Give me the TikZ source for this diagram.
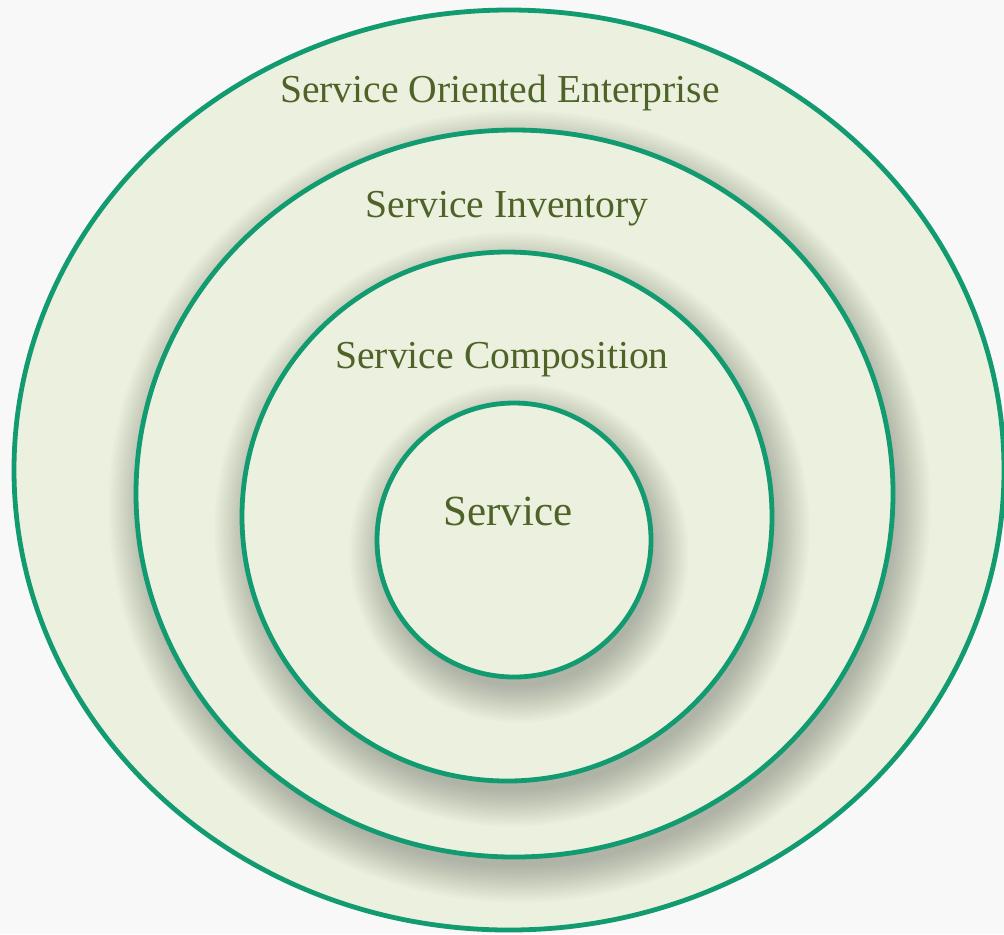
\documentclass[tikz,border=0pt]{standalone}
\usepackage{fontspec}
\setmainfont{Liberation Serif}

\definecolor{ringfill}{RGB}{235,241,222}
\definecolor{ringline}{RGB}{18,154,112}
\definecolor{labeltext}{RGB}{79,98,40}
\definecolor{paper}{RGB}{248,248,248}

\tikzset{
	ring/.style={fill=ringfill, draw=ringline, line width=2.4pt},
	glowstep/.style={fill=black, fill opacity=0.017},
	ringlabel/.style={text=labeltext, font=\fontsize{19.8}{22}\selectfont, anchor=base, inner sep=0pt},
}

% soft shadow under a ring: centre x, centre y, x radius, y radius
\newcommand{\ringglow}[4]{%
	\foreach \k in {1,...,16}{
		\fill[glowstep] (#1+5,#2+13) ellipse [x radius={#3+2.4*\k-6}, y radius={#4+2.4*\k-6}];
	}
}

\begin{document}
\begin{tikzpicture}[x=0.5pt,y=-0.5pt]
	\useasboundingbox (0,0) rectangle (1004,934);
	\clip (0,0) rectangle (1004,934);
	\fill[paper] (0,0) rectangle (1004,934);
	
	% rings, outermost first
	\filldraw[ring] (509,470) ellipse [x radius=495, y radius=460];
	\ringglow{514.5}{493.5}{378.5}{363.5}
	\filldraw[ring] (514.5,493.5) ellipse [x radius=378.5, y radius=363.5];
	\ringglow{507}{516.5}{265}{264.5}
	\filldraw[ring] (507,516.5) ellipse [x radius=265, y radius=264.5];
	\ringglow{514}{540}{137}{137}
	\filldraw[ring] (514,540) ellipse [x radius=137, y radius=137];
	
	\node[ringlabel] (enterprise) at (500,102) {Service Oriented Enterprise};
	\node[ringlabel] (inventory) at (507,217) {Service Inventory};
	\node[ringlabel] (composition) at (502,368) {Service Composition};
	\node[ringlabel, font=\fontsize{21.5}{24}\selectfont] (service) at (508,525) {Service};
\end{tikzpicture}
\end{document}
